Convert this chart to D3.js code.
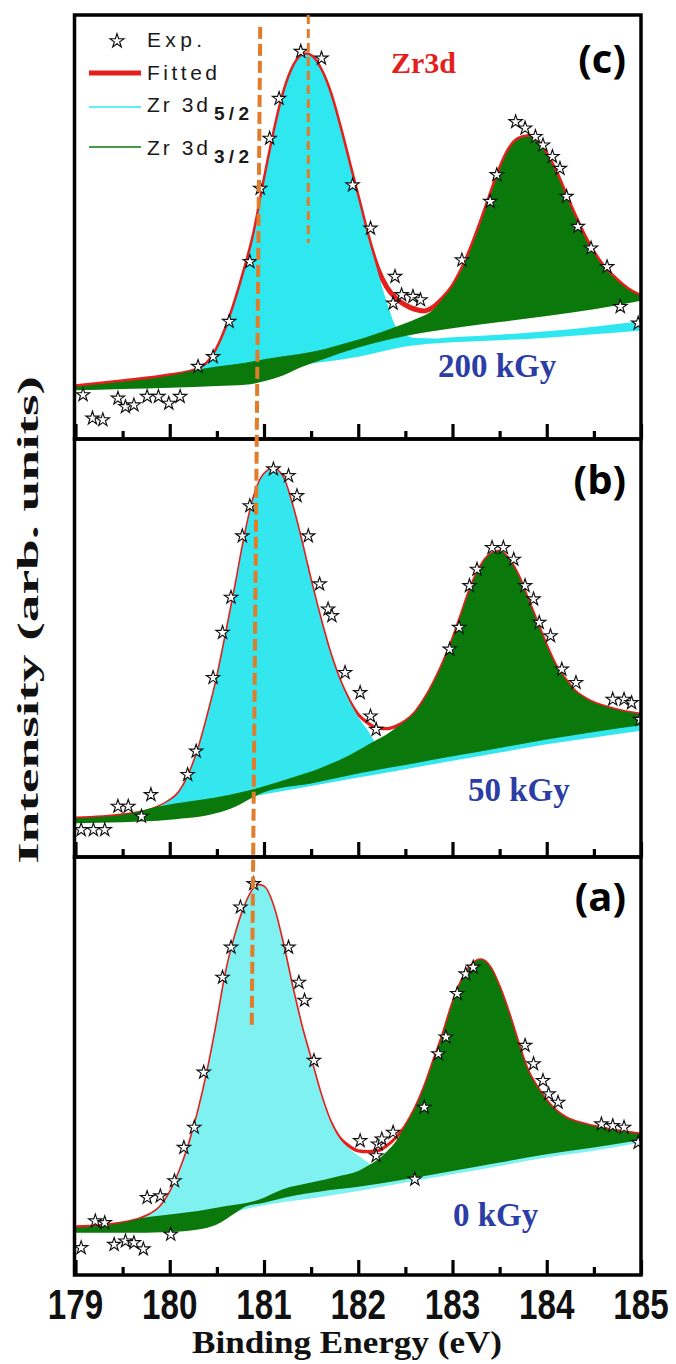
<!DOCTYPE html>
<html>
<head>
<meta charset="utf-8">
<script src="https://cdn.jsdelivr.net/npm/d3@7"></script>
<style>
  body { margin: 0; background: #ffffff; }
  svg { display: block; }
</style>
</head>
<body>
<div id="zrDiv"></div>
<script>
//----------------------------------------------------------------------------------------------------
// Zr 3d XPS fits for three doses.
// each point is [binding energy (eV), intensity as percent of the panel height]
//----------------------------------------------------------------------------------------------------
var xTickValues   = [179, 180, 181, 182, 183, 184, 185];
var xMinorValues  = [179.5, 180.5, 181.5, 182.5, 183.5, 184.5];
var panelLetters  = ["(c)", "(b)", "(a)"];
var doseLabels    = ["200 kGy", "50 kGy", "0 kGy"];
var legendLabels  = ["Exp.", "Fitted", "Zr 3d", "Zr 3d"];
var legendSubs    = ["", "", "5/2", "3/2"];

   // ---- (c) 200 kGy
var fitC = [[179.0,12.3],[179.5,13.5],[180.0,14.9],[180.3,16.4],[180.4,17.8],[180.5,21.0],[180.6,26.0],
   [180.7,32.5],[180.8,40.0],[180.9,48.5],[181.0,60.0],[181.1,71.0],[181.2,80.5],[181.3,87.0],[181.4,90.3],
   [181.45,90.6],[181.5,90.2],[181.6,87.0],[181.7,81.5],[181.8,73.7],[181.9,65.0],[182.0,56.4],[182.1,47.7],
   [182.2,40.6],[182.3,35.9],[182.4,33.2],[182.5,31.6],[182.6,30.6],[182.7,30.2],[182.8,31.2],[182.9,33.2],
   [183.0,35.9],[183.1,39.9],[183.2,45.0],[183.3,50.9],[183.4,57.2],[183.5,63.4],[183.6,68.2],[183.7,70.7],
   [183.8,71.3],[183.9,70.1],[184.0,67.0],[184.1,62.7],[184.2,57.5],[184.3,52.4],[184.4,47.7],[184.5,43.8],
   [184.6,40.6],[184.7,38.3],[184.8,36.3],[184.9,34.7],[185.0,33.6]];
var cyanTopC = [[180.3,16.4],[180.4,17.8],[180.5,21.0],[180.6,26.0],[180.7,32.5],[180.8,40.0],[180.9,48.5],
   [181.0,60.0],[181.1,71.0],[181.2,80.5],[181.3,87.0],[181.4,90.3],[181.45,90.6],[181.5,90.2],[181.6,87.0],
   [181.7,81.5],[181.8,73.7],[181.9,65.0],[182.0,56.4],[182.1,47.7],[182.2,40.0],[182.3,32.5],[182.4,26.5],
   [182.5,24.6],[182.6,23.8],[182.8,23.7],[183.0,24.0],[183.5,24.6],[184.0,25.4],[184.5,26.5],[185.0,27.8]];
var cyanBaseC = [[180.3,15.8],[181.0,16.8],[181.5,17.8],[182.0,19.4],[182.5,21.8],[183.0,22.8],[183.5,23.3],
   [184.0,23.9],[184.5,24.7],[185.0,25.6]];
var greenTopC = [[179.0,12.3],[179.5,13.5],[180.0,14.9],[180.3,16.4],[180.5,17.1],[180.8,18.0],[181.0,18.8],
   [181.3,19.8],[181.6,21.0],[181.9,22.8],[182.2,24.9],[182.4,26.5],[182.6,28.2],[182.8,30.6],[182.9,33.2],
   [183.0,35.9],[183.1,39.9],[183.2,45.0],[183.3,50.9],[183.4,57.2],[183.5,63.4],[183.6,68.2],[183.7,70.7],
   [183.8,71.3],[183.9,70.1],[184.0,67.0],[184.1,62.7],[184.2,57.5],[184.3,52.4],[184.4,47.7],[184.5,43.8],
   [184.6,40.6],[184.7,38.3],[184.8,36.3],[184.9,34.7],[185.0,33.6]];
var greenBaseC = [[179.0,11.5],[179.5,11.8],[180.0,12.1],[180.5,12.5],[180.8,12.8],[181.0,13.6],[181.2,15.0],
   [181.4,17.0],[181.6,18.6],[182.0,21.6],[182.5,24.3],[183.0,26.1],[183.5,27.6],[184.0,29.0],[184.5,30.6],
   [185.0,32.6]];
var starsC = [[179.08,10.4],[179.18,4.9],[179.29,4.5],[179.45,9.6],[179.53,7.6],[179.62,8.0],[179.76,10.0],
   [179.88,10.0],[179.99,8.4],[180.11,10.0],[180.30,17.1],[180.46,19.4],[180.63,27.7],[180.85,41.8],
   [180.96,59.1],[181.06,70.9],[181.16,80.3],[181.39,91.4],[181.61,89.8],[181.94,59.9],[182.13,49.7],
   [182.39,38.3],[182.37,32.0],[182.46,34.0],[182.58,33.6],[182.66,32.8],[183.10,42.2],[183.40,56.0],
   [183.47,62.3],[183.67,74.8],[183.77,73.3],[183.88,71.3],[183.96,69.3],[184.06,66.6],[184.14,63.8],
   [184.21,57.2],[184.33,50.1],[184.47,45.0],[184.64,40.6],[184.78,31.2],[184.97,27.3]];

   // ---- (b) 50 kGy
var fitB = [[179.0,9.3],[179.5,10.1],[179.8,11.3],[180.0,13.5],[180.1,15.5],[180.2,19.5],[180.3,25.5],
   [180.4,33.5],[180.5,42.5],[180.6,53.5],[180.7,65.0],[180.8,77.0],[180.9,86.5],[181.0,91.5],[181.1,92.8],
   [181.2,90.8],[181.3,84.0],[181.4,75.2],[181.5,65.7],[181.6,56.9],[181.7,48.9],[181.8,42.5],[181.9,37.7],
   [182.0,34.1],[182.1,32.1],[182.2,30.9],[182.3,30.7],[182.4,31.3],[182.5,32.5],[182.6,34.5],[182.7,37.7],
   [182.8,41.7],[182.9,46.5],[183.0,52.1],[183.1,58.5],[183.2,64.9],[183.3,69.6],[183.4,72.4],[183.5,73.2],
   [183.6,71.2],[183.7,67.3],[183.8,61.7],[183.9,56.1],[184.0,50.5],[184.1,45.7],[184.2,42.5],[184.3,39.7],
   [184.4,38.1],[184.5,36.9],[184.6,36.1],[184.8,34.9],[185.0,34.1]];
var cyanTopB = [[179.88,12.1],[180.0,13.5],[180.1,15.5],[180.2,19.5],[180.3,25.5],[180.4,33.5],[180.5,42.5],
   [180.6,53.5],[180.7,65.0],[180.8,77.0],[180.9,86.5],[181.0,91.5],[181.1,92.8],[181.2,90.8],[181.3,84.0],
   [181.4,75.2],[181.5,65.7],[181.6,56.9],[181.7,48.9],[181.8,42.5],[181.9,37.5],[182.0,33.5],[182.1,30.3],
   [182.17,27.7],[182.3,25.0],[182.6,24.0],[183.0,24.8],[183.5,26.8],[184.0,28.8],[184.5,30.6],[185.0,32.2]];
var cyanBaseB = [[179.88,11.0],[180.5,12.8],[181.0,15.0],[181.5,17.0],[182.0,19.0],[182.5,21.0],[183.0,23.0],
   [183.5,25.0],[184.0,27.0],[184.5,28.6],[185.0,30.2]];
var greenTopB = [[179.0,9.3],[179.5,10.1],[179.88,12.1],[180.2,13.3],[180.5,14.3],[180.8,15.7],[181.0,16.9],
   [181.3,19.0],[181.6,21.3],[181.9,24.3],[182.17,27.7],[182.3,29.3],[182.4,30.9],[182.5,32.5],[182.6,34.5],
   [182.7,37.7],[182.8,41.7],[182.9,46.5],[183.0,52.1],[183.1,58.5],[183.2,64.9],[183.3,69.6],[183.4,72.4],
   [183.5,73.2],[183.6,71.2],[183.7,67.3],[183.8,61.7],[183.9,56.1],[184.0,50.5],[184.1,45.7],[184.2,42.5],
   [184.3,39.7],[184.4,38.1],[184.5,36.9],[184.6,36.1],[184.8,34.9],[185.0,34.1]];
var greenBaseB = [[179.0,8.1],[179.5,8.3],[180.0,8.9],[180.5,10.5],[180.7,12.1],[180.9,14.5],[181.0,15.5],
   [181.5,17.6],[182.0,20.0],[182.5,22.0],[183.0,24.1],[183.5,26.1],[184.0,28.1],[184.5,29.9],[185.0,31.5]];
var starsB = [[179.06,6.5],[179.19,6.5],[179.31,6.5],[179.45,12.1],[179.56,12.1],[179.70,9.7],[179.80,14.9],
   [180.19,19.7],[180.28,25.3],[180.46,42.9],[180.56,53.7],[180.65,62.1],[180.77,76.8],[180.85,84.0],
   [181.10,92.8],[181.26,91.2],[181.35,86.4],[181.47,76.8],[181.59,65.3],[181.68,59.3],[181.72,57.7],
   [181.86,44.1],[182.02,39.3],[182.13,33.7],[182.19,30.5],[182.97,49.7],[183.07,54.9],[183.18,64.9],
   [183.26,68.8],[183.42,74.0],[183.54,74.0],[183.65,71.2],[183.77,64.9],[183.86,61.7],[183.92,56.1],
   [184.04,52.9],[184.16,44.9],[184.31,41.7],[184.70,37.7],[184.82,37.7],[184.90,36.9],[184.99,32.9]];

   // ---- (a) 0 kGy
var fitA = [[179.0,11.5],[179.5,12.5],[179.7,13.6],[179.8,14.6],[179.9,16.3],[180.0,19.6],[180.1,24.5],
   [180.2,30.8],[180.3,38.8],[180.4,48.5],[180.5,60.0],[180.6,72.5],[180.7,81.5],[180.8,88.3],[180.9,92.6],
   [180.95,93.2],[181.0,92.8],[181.1,88.0],[181.2,79.2],[181.3,68.8],[181.4,59.3],[181.5,51.3],[181.6,43.3],
   [181.7,36.9],[181.8,32.9],[181.9,30.9],[182.0,29.7],[182.1,29.5],[182.2,29.7],[182.3,30.9],[182.4,32.9],
   [182.5,35.7],[182.6,39.7],[182.7,44.9],[182.8,51.3],[182.9,57.7],[183.0,64.9],[183.1,70.5],[183.2,74.1],
   [183.3,75.4],[183.4,73.6],[183.5,68.8],[183.6,62.5],[183.7,55.3],[183.8,48.9],[183.9,44.9],[184.0,41.7],
   [184.1,39.3],[184.2,37.7],[184.4,36.1],[184.6,35.1],[184.8,34.3],[185.0,33.7]];
var cyanTopA = [[179.72,13.7],[179.8,14.6],[179.9,16.3],[180.0,19.6],[180.1,24.5],[180.2,30.8],[180.3,38.8],
   [180.4,48.5],[180.5,60.0],[180.6,72.5],[180.7,81.5],[180.8,88.3],[180.9,92.6],[180.95,93.2],[181.0,92.8],
   [181.1,88.0],[181.2,79.2],[181.3,68.8],[181.4,59.3],[181.5,51.3],[181.6,43.3],[181.7,36.9],[181.8,32.7],
   [181.9,30.3],[182.0,28.6],[182.13,26.5],[182.3,24.2],[182.6,24.0],[183.0,25.5],[183.5,27.5],[184.0,29.5],
   [184.5,31.2],[185.0,33.0]];
var cyanBaseA = [[179.72,12.0],[180.0,11.8],[180.5,13.4],[180.8,15.7],[181.0,16.7],[181.5,18.3],[182.0,20.1],
   [182.5,22.1],[183.0,24.1],[183.5,26.1],[184.0,28.1],[184.5,29.7],[185.0,31.7]];
var greenTopA = [[179.0,11.3],[179.5,12.5],[179.72,13.7],[180.0,14.5],[180.3,15.3],[180.6,16.5],[180.9,17.7],
   [181.0,18.5],[181.2,20.5],[181.5,22.1],[181.8,23.7],[182.0,24.9],[182.13,26.5],[182.2,27.5],[182.3,29.5],
   [182.4,32.0],[182.5,35.7],[182.6,39.7],[182.7,44.9],[182.8,51.3],[182.9,57.7],[183.0,64.9],[183.1,70.5],
   [183.2,74.1],[183.3,75.4],[183.4,73.6],[183.5,68.8],[183.6,62.5],[183.7,55.3],[183.8,48.9],[183.9,44.9],
   [184.0,41.7],[184.1,39.3],[184.2,37.7],[184.4,36.1],[184.6,35.1],[184.8,34.3],[185.0,33.7]];
var greenBaseA = [[179.0,10.1],[179.5,10.1],[180.0,10.3],[180.3,10.9],[180.5,12.1],[180.7,14.9],[180.8,16.3],
   [181.0,17.3],[181.3,18.9],[181.6,20.0],[182.0,21.1],[182.5,22.9],[183.0,24.9],[183.5,26.9],[184.0,28.9],
   [184.5,30.5],[185.0,32.3]];
var starsA = [[179.06,6.5],[179.21,12.9],[179.31,12.5],[179.41,7.3],[179.53,8.1],[179.62,7.7],[179.72,6.2],
   [179.76,18.5],[179.90,18.9],[180.01,9.7],[180.05,22.5],[180.15,30.5],[180.26,35.3],[180.36,48.5],
   [180.56,71.2],[180.65,78.4],[180.75,88.0],[180.89,93.6],[181.26,78.4],[181.37,70.0],[181.43,65.7],
   [181.53,51.3],[182.02,32.1],[182.19,28.5],[182.21,31.3],[182.25,32.5],[182.37,34.1],[182.60,22.9],
   [182.70,40.1],[182.85,52.9],[182.93,56.9],[183.05,67.3],[183.14,72.0],[183.22,73.6],[183.77,54.9],
   [183.86,50.5],[183.96,46.5],[184.02,43.3],[184.12,41.3],[184.58,36.1],[184.70,35.7],[184.82,35.3],
   [184.97,31.7]];

   // peak-shift guide lines: [energy, panel index, intensity]
var shiftGuideLong  = [[180.96, 0, 97.2], [180.87, 2, 59.3]];
var shiftGuideShort = [[181.47, 0, 100], [181.47, 0, 46.2]];

//----------------------------------------------------------------------------------------------------
var ZrFigure = {

    svg: null,
    xScale: null,
    yScales: [],
    panelTop: [15, 439, 857],       // (c), (b), (a) stacked top to bottom
    panelHeight: [424, 418, 418],
    plotLeft: 75.5,
    plotRight: 641,
    red: "#e41f1c",
    cyan: ["#2fe8ef", "#34e6ee", "#80f1f1"],
    green: "#0a780a",
    orange: "#e07c2a",
    blue: "#2c3ea6",

//----------------------------------------------------------------------------------------------------
initialize: function () {

   this.svg = d3.select("#zrDiv").append("svg")
       .attr("width", 676)
       .attr("height", 1364);

   this.xScale = d3.scaleLinear()
                   .domain([179, 185])
                   .range([this.plotLeft, this.plotRight]);

   for(var i=0; i < 3; i++){
      this.yScales.push(d3.scaleLinear()
                          .domain([0, 100])
                          .range([this.panelTop[i] + this.panelHeight[i], this.panelTop[i]]));
      }

}, // initialize
//----------------------------------------------------------------------------------------------------
   // closed outline: upper edge left to right, then the lower edge back
bandPath: function (line, upper, lower) {

   var back = lower.slice().reverse();
   return line(upper) + "L" + line(back).substring(1) + "Z";

}, // bandPath
//----------------------------------------------------------------------------------------------------
drawPanel: function (i, d) {

   var self = this;
   var x = this.xScale;
   var y = this.yScales[i];
   var top = this.panelTop[i];
   var h = this.panelHeight[i];

   this.svg.append("defs").append("clipPath")
       .attr("id", "clip" + i)
       .append("rect")
       .attr("x", this.plotLeft).attr("y", top)
       .attr("width", this.plotRight - this.plotLeft).attr("height", h);

   var g = this.svg.append("g").attr("clip-path", "url(#clip" + i + ")");

   var line = d3.line()
                .x(function(p){ return x(p[0]); })
                .y(function(p){ return y(p[1]); })
                .curve(d3.curveMonotoneX);

   g.append("path")
      .attr("d", line(d.fit))
      .attr("fill", "none")
      .attr("stroke", this.red)
      .attr("stroke-width", i == 0 ? 5 : 3.2);

   g.append("path")
      .attr("d", this.bandPath(line, d.cyanTop, d.cyanBase))
      .attr("fill", this.cyan[i]);

   g.append("path")
      .attr("d", this.bandPath(line, d.greenTop, d.greenBase))
      .attr("fill", this.green);

   var star = d3.symbol().type(d3.symbolStar).size(55);

   g.selectAll("path.star")
      .data(d.stars)
      .enter()
      .append("path")
      .attr("class", "star")
      .attr("d", star)
      .attr("transform", function(p){ return "translate(" + x(p[0]) + "," + y(p[1]) + ")"; })
      .attr("fill", "#ffffff")
      .attr("stroke", "#111")
      .attr("stroke-width", 1.15);

      // ticks point up, inside the frame
   var bottom = top + h;
   var major = d3.axisBottom(x).tickValues(xTickValues).tickSize(-15).tickFormat("");
   var minor = d3.axisBottom(x).tickValues(xMinorValues).tickSize(-8).tickFormat("");

   [major, minor].forEach(function(axis){
      var a = self.svg.append("g")
         .attr("transform", "translate(0," + bottom + ")")
         .call(axis);
      a.select(".domain").remove();
      a.selectAll(".tick line").attr("stroke", "#000").attr("stroke-width", 3.2);
      });

   this.svg.append("rect")
      .attr("x", 74.5).attr("y", top)
      .attr("width", 641 - 74.5).attr("height", h)
      .attr("fill", "none")
      .attr("stroke", "#000")
      .attr("stroke-width", 3.5);

   this.svg.append("text")
      .attr("x", 626).attr("y", [73, 494, 911][i])
      .attr("text-anchor", "end")
      .attr("font-family", "'Open Sans', sans-serif")
      .attr("font-weight", 700)
      .attr("font-size", 40)
      .text(panelLetters[i]);

   this.svg.append("text")
      .attr("x", [438, 468, 453][i]).attr("y", [377, 801, 1226][i])
      .attr("font-family", "'Liberation Serif', serif")
      .attr("font-weight", 700)
      .attr("font-size", 33)
      .attr("fill", this.blue)
      .text(doseLabels[i]);

}, // drawPanel
//----------------------------------------------------------------------------------------------------
drawGuides: function () {

   var self = this;
   var gx = function(p){ return self.xScale(p[0]); };
   var gy = function(p){ return self.yScales[p[1]](p[2]); };

   this.svg.append("line")
      .attr("x1", gx(shiftGuideLong[0])).attr("y1", gy(shiftGuideLong[0]))
      .attr("x2", gx(shiftGuideLong[1])).attr("y2", gy(shiftGuideLong[1]))
      .attr("stroke", this.orange)
      .attr("stroke-width", 4)
      .attr("stroke-dasharray", "12,5");

   this.svg.append("line")
      .attr("x1", gx(shiftGuideShort[0])).attr("y1", gy(shiftGuideShort[0]))
      .attr("x2", gx(shiftGuideShort[1])).attr("y2", gy(shiftGuideShort[1]))
      .attr("stroke", this.orange)
      .attr("stroke-width", 3)
      .attr("stroke-dasharray", "9,5");

}, // drawGuides
//----------------------------------------------------------------------------------------------------
drawLegend: function () {

   var rowsY = [47, 80, 112, 155];
   var lineY = [0, 73, 107, 147];
   var widths = [55, 70, 61, 61];
   var g = this.svg.append("g");

   g.append("path")
      .attr("d", d3.symbol().type(d3.symbolStar).size(60))
      .attr("transform", "translate(117,41)")
      .attr("fill", "#fff")
      .attr("stroke", "#111")
      .attr("stroke-width", 1.2);

   var lineStyles = [null, [this.red, 5], [this.cyan[0], 1.6], [this.green, 1.6]];
   for(var i=1; i < 4; i++){
      g.append("line")
         .attr("x1", 89).attr("x2", 141)
         .attr("y1", lineY[i]).attr("y2", lineY[i])
         .attr("stroke", lineStyles[i][0])
         .attr("stroke-width", lineStyles[i][1]);
      }

   for(var i=0; i < 4; i++){
      g.append("text")
         .attr("x", 147).attr("y", rowsY[i])
         .attr("textLength", widths[i])
         .attr("font-family", "'Liberation Sans', Arial, sans-serif")
         .attr("font-size", 21)
         .attr("fill", "#1a1a1a")
         .text(legendLabels[i]);
      if(legendSubs[i] != ""){
         g.append("text")
            .attr("x", 214).attr("y", rowsY[i] + 8)
            .attr("textLength", 35)
            .attr("font-family", "'Liberation Sans', Arial, sans-serif")
            .attr("font-weight", 700)
            .attr("font-size", 19)
            .attr("fill", "#1a1a1a")
            .text(legendSubs[i]);
         }
      }

   this.svg.append("text")
      .attr("x", 391).attr("y", 73)
      .attr("font-family", "'Liberation Serif', serif")
      .attr("font-weight", 700)
      .attr("font-size", 30)
      .attr("fill", this.red)
      .text("Zr3d");

}, // drawLegend
//----------------------------------------------------------------------------------------------------
drawAxisText: function () {

   var x = this.xScale;

      // tall, narrow tick numbers: squeeze a 42px bold face horizontally
   this.svg.selectAll("text.xlab")
      .data(xTickValues)
      .enter()
      .append("text")
      .attr("class", "xlab")
      .attr("transform", function(v){ return "translate(" + x(v) + ",1319) scale(0.79,1)"; })
      .attr("text-anchor", "middle")
      .attr("font-family", "'Liberation Sans', Arial, sans-serif")
      .attr("font-weight", 700)
      .attr("font-size", 42)
      .attr("fill", "#111")
      .text(function(v){ return v; });

   this.svg.append("text")
      .attr("x", 192).attr("y", 1353)
      .attr("textLength", 310)
      .attr("lengthAdjust", "spacingAndGlyphs")
      .attr("font-family", "'Liberation Serif', serif")
      .attr("font-weight", 700)
      .attr("font-size", 31)
      .attr("fill", "#111")
      .text("Binding Energy (eV)");

   this.svg.append("text")
      .attr("transform", "translate(38,620) rotate(-90)")
      .attr("text-anchor", "middle")
      .attr("textLength", 488)
      .attr("lengthAdjust", "spacingAndGlyphs")
      .attr("font-family", "'Liberation Serif', serif")
      .attr("font-weight", 700)
      .attr("font-size", 30)
      .attr("fill", "#111")
      .text("Intensity (arb. units)");

}, // drawAxisText
//----------------------------------------------------------------------------------------------------
}
//----------------------------------------------------------------------------------------------------
var panels = [
   {fit: fitC, cyanTop: cyanTopC, cyanBase: cyanBaseC, greenTop: greenTopC, greenBase: greenBaseC, stars: starsC},
   {fit: fitB, cyanTop: cyanTopB, cyanBase: cyanBaseB, greenTop: greenTopB, greenBase: greenBaseB, stars: starsB},
   {fit: fitA, cyanTop: cyanTopA, cyanBase: cyanBaseA, greenTop: greenTopA, greenBase: greenBaseA, stars: starsA}
   ];

ZrFigure.initialize();
panels.forEach(function(d, i){ ZrFigure.drawPanel(i, d); });
ZrFigure.drawGuides();
ZrFigure.drawLegend();
ZrFigure.drawAxisText();

</script>
</body>
</html>
